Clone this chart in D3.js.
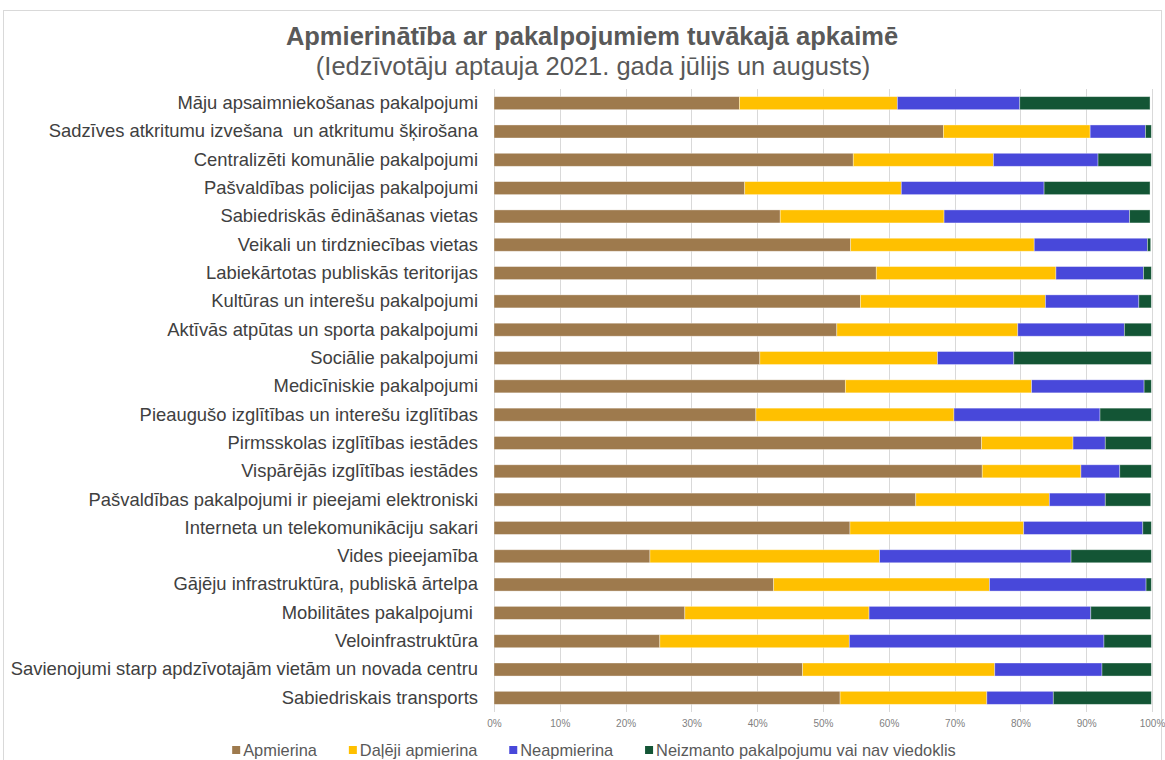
<!DOCTYPE html>
<html>
<head>
<meta charset="utf-8">
<script src="https://cdn.jsdelivr.net/npm/d3@7/dist/d3.min.js"></script>
<style>
  html, body { margin: 0; padding: 0; background: #fff; }
  svg { display: block; font-family: "Liberation Sans", Arial, sans-serif; }
</style>
</head>
<body>
<svg id="chart" width="1165" height="760"></svg>
<script>
const categories = [
  "Māju apsaimniekošanas pakalpojumi",
  "Sadzīves atkritumu izvešana  un atkritumu šķirošana",
  "Centralizēti komunālie pakalpojumi",
  "Pašvaldības policijas pakalpojumi",
  "Sabiedriskās ēdināšanas vietas",
  "Veikali un tirdzniecības vietas",
  "Labiekārtotas publiskās teritorijas",
  "Kultūras un interešu pakalpojumi",
  "Aktīvās atpūtas un sporta pakalpojumi",
  "Sociālie pakalpojumi",
  "Medicīniskie pakalpojumi",
  "Pieaugušo izglītības un interešu izglītības",
  "Pirmsskolas izglītības iestādes",
  "Vispārējās izglītības iestādes",
  "Pašvaldības pakalpojumi ir pieejami elektroniski",
  "Interneta un telekomunikāciju sakari",
  "Vides pieejamība",
  "Gājēju infrastruktūra, publiskā ārtelpa",
  "Mobilitātes pakalpojumi ",
  "Veloinfrastruktūra",
  "Savienojumi starp apdzīvotajām vietām un novada centru",
  "Sabiedriskais transports"
];
const seriesNames = ["Apmierina", "Daļēji apmierina", "Neapmierina", "Neizmanto pakalpojumu vai nav viedoklis"];
const apmierina =      [37.3, 68.3, 54.6, 38.1, 43.5, 54.2, 58.1, 55.7, 52.1, 40.4, 53.4, 39.8, 74.1, 74.2, 64.1, 54.1, 23.7, 42.5, 29.0, 25.2, 46.9, 52.6];
const dalejiApmierina = [24.0, 22.3, 21.3, 23.8, 24.9, 27.9, 27.3, 28.1, 27.5, 27.0, 28.3, 30.1, 13.9, 15.0, 20.3, 26.4, 34.9, 32.8, 28.0, 28.8, 29.2, 22.3];
const neapmierina =    [18.6, 8.4, 15.9, 21.7, 28.2, 17.2, 13.3, 14.2, 16.2, 11.6, 17.1, 22.2, 4.9, 5.9, 8.5, 18.1, 29.1, 23.8, 33.7, 38.7, 16.3, 10.1];
const neizmanto =      [19.8, 0.9, 8.1, 16.1, 3.1, 0.5, 1.2, 1.9, 4.1, 20.9, 1.1, 7.8, 7.0, 4.8, 6.9, 1.3, 12.2, 0.8, 9.1, 7.2, 7.5, 14.9];
const tickValues = [0, 10, 20, 30, 40, 50, 60, 70, 80, 90, 100];
const colors = ["#9e7a4d", "#ffc000", "#4848da", "#135535"];
const titleText = "Apmierinātība ar pakalpojumiem tuvākajā apkaimē";
const subtitleText = "(Iedzīvotāju aptauja 2021. gada jūlijs un augusts)";

const seriesValues = [apmierina, dalejiApmierina, neapmierina, neizmanto];
const rows = categories.map((c, i) => {
  const o = { cat: c };
  seriesNames.forEach((s, k) => o[s] = seriesValues[k][i]);
  return o;
});
const stacked = d3.stack().keys(seriesNames)(rows);

const svg = d3.select("#chart");
const m = { left: 494, right: 1152, top: 89, bottom: 712 };

// outer border
svg.append("rect").attr("x", 3.5).attr("y", 10.5).attr("width", 1158).attr("height", 760)
  .attr("fill", "none").attr("stroke", "#d9d9d9").attr("stroke-width", 1);

const x = d3.scaleLinear().domain([0, 100]).range([m.left, m.right]);
const y = d3.scaleBand().domain(categories).range([m.top, m.bottom]).paddingInner(0.54).paddingOuter(0.27);

// gridlines
svg.append("g").selectAll("line").data(tickValues).join("line")
  .attr("x1", d => Math.round(x(d)) + 0.5).attr("x2", d => Math.round(x(d)) + 0.5)
  .attr("y1", m.top).attr("y2", m.bottom)
  .attr("stroke", "#d9d9d9").attr("stroke-width", 1);

// bars
svg.append("g").selectAll("g").data(stacked).join("g")
  .attr("fill", (d, i) => colors[i])
  .selectAll("rect").data(d => d).join("rect")
  .attr("x", d => x(d[0]))
  .attr("width", d => Math.max(0, x(d[1]) - x(d[0])))
  .attr("y", d => y(d.data.cat))
  .attr("height", y.bandwidth())
  .attr("stroke", "rgba(255,255,255,0.45)").attr("stroke-width", 0.8);

// x axis labels
const xAxis = d3.axisBottom(x).tickValues(tickValues).tickFormat(d => d + "%").tickSize(0).tickPadding(0);
const gx = svg.append("g").attr("transform", `translate(0,${m.bottom + 8})`).call(xAxis);
gx.select(".domain").remove();
gx.selectAll("text").attr("font-size", 10).attr("fill", "#7f7f7f")
  .attr("font-family", "'Liberation Sans', Arial, sans-serif").attr("dy", "0.71em");

// y axis labels
const yAxis = d3.axisLeft(y).tickSize(0).tickPadding(16);
const gy = svg.append("g").attr("transform", `translate(${m.left},0)`).call(yAxis);
gy.select(".domain").remove();
gy.selectAll("text").attr("font-size", 18.4).attr("fill", "#404040")
  .attr("font-family", "'Liberation Sans', Arial, sans-serif").style("white-space", "pre");

// title
svg.append("text").attr("x", 592).attr("y", 45).attr("text-anchor", "middle")
  .attr("font-size", 25.5).attr("font-weight", "bold").attr("fill", "#595959").text(titleText);
svg.append("text").attr("x", 593).attr("y", 75).attr("text-anchor", "middle")
  .attr("font-size", 25.5).attr("fill", "#595959").text(subtitleText);

// legend
const lg = svg.append("g");
const items = lg.selectAll("g").data(seriesNames).join("g");
items.append("rect").attr("width", 8).attr("height", 8).attr("y", -4).attr("fill", (d, i) => colors[i]);
items.append("text").attr("x", 11).attr("dy", "0.35em").attr("font-size", 16.4).attr("fill", "#595959").text(d => d);
const widths = [];
items.each(function() { widths.push(this.getBBox().width); });
const gap = 31;
const total = d3.sum(widths) + gap * (widths.length - 1);
let start = 594 - total / 2;
items.attr("transform", (d, i) => {
  const t = `translate(${start},750)`;
  start += widths[i] + gap;
  return t;
});
</script>
</body>
</html>
